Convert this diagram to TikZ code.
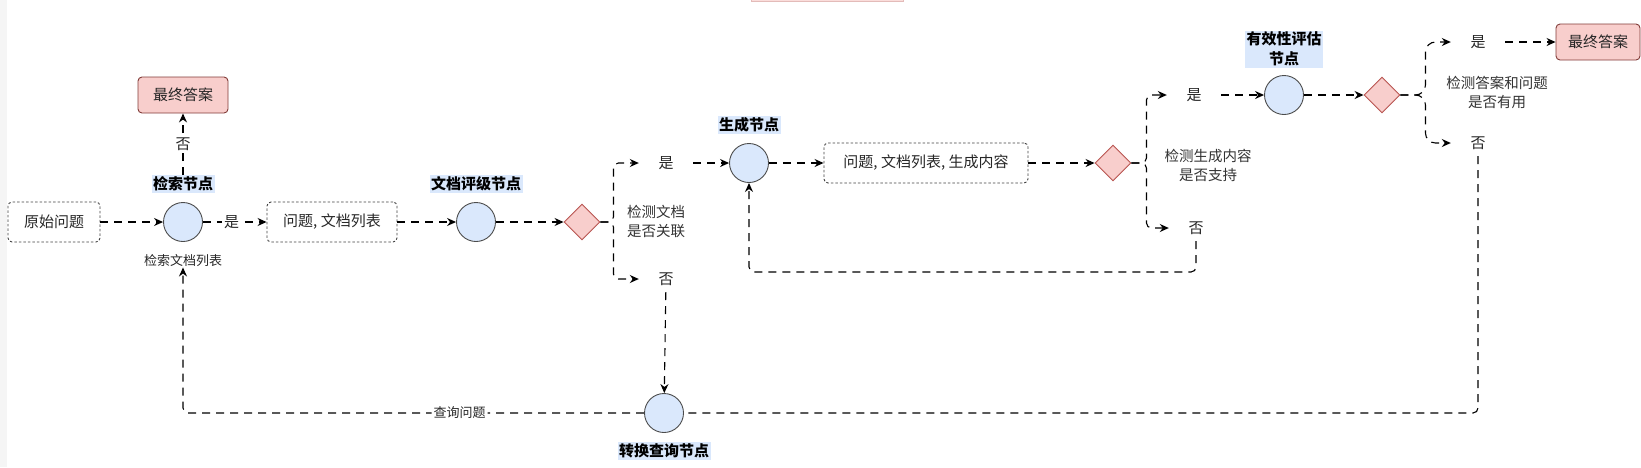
\documentclass[tikz,border=0pt]{standalone}
\usepackage{xcolor}
\usepackage{fontspec}
\usepackage{tikz}
\usetikzlibrary{arrows.meta,positioning,shapes.geometric}
\newfontfamily\cjk{Noto Sans CJK SC}
\definecolor{nodeblue}{HTML}{DAE8FC}
\definecolor{rosefill}{HTML}{F8CECC}
\definecolor{roseline}{HTML}{B85450}
\tikzset{
  flow/proc/.style={draw=black!70, circle, fill=nodeblue, line width=0.9pt, minimum size=39pt, inner sep=0pt},
  flow/judge/.style={draw=roseline, diamond, fill=rosefill, line width=0.9pt, minimum size=36pt, inner sep=0pt},
  flow/final/.style={draw=roseline!70!black, rounded corners=4pt, fill=rosefill, line width=0.9pt, minimum width=90pt, minimum height=36pt},
  flow/data/.style={draw=black!75, dash pattern=on 2.5pt off 2pt, rounded corners=4pt, line width=0.9pt, minimum height=40pt},
  flow/tag/.style={fill=nodeblue, font=\cjk\bfseries\fontsize{15}{20}\selectfont, text=black, inner sep=1.5pt, align=center},
  flow/note/.style={font=\cjk\fontsize{14.5}{19}\selectfont, text=black!80, align=center, inner sep=1pt},
  flow/choice/.style={minimum width=54pt, minimum height=26pt, inner sep=0pt},
  flow/lbl/.style={fill=white, inner sep=2pt},
  flow/edge/.style={line width=1.1pt, dash pattern=on 8pt off 6pt, -{Stealth[length=9pt,width=8pt]}},
  flow/link/.style={line width=1.1pt, dash pattern=on 8pt off 6pt}
}

\begin{document}
\begin{tikzpicture}[x=1pt, y=-1pt, every node/.style={font=\cjk\fontsize{15}{18}\selectfont, text=black!85}]
  \useasboundingbox (0,0) rectangle (1641,467);
  \fill[black!4] (0,0) rectangle (7,467);
  \draw[draw=roseline!40, fill=rosefill!70] (751,-10) rectangle (903,1.5);

  \node[flow/data, minimum width=92pt] (query) at (54,222) {原始问题};
  \node[flow/proc] (retrieve) at (183,222) {};
  \node[flow/tag, above=9pt of retrieve] (retrievetag) {检索节点};
  \node[below=11pt of retrieve, font=\cjk\fontsize{13}{15}\selectfont, inner sep=1pt] (retrievecap) {检索文档列表};
  \node[flow/final] (final1) at (183,95) {最终答案};
  \node[flow/data, minimum width=130pt] (doclist) at (332,222) {问题, 文档列表};
  \node[flow/proc] (grade) at (476,222) {};
  \node[flow/tag, above=9pt of grade] (gradetag) {文档评级节点};
  \node[flow/judge] (relevant) at (582,222) {};
  \node[flow/note, anchor=west] (relevantnote) at (626,221) {检测文档\\是否关联};
  \node[flow/choice] (yes1) at (666,163) {是};
  \node[flow/choice] (no1) at (666,279) {否};
  \node[flow/proc] (generate) at (749,163) {};
  \node[flow/tag, above=9pt of generate] (generatetag) {生成节点};
  \node[flow/data, minimum width=204pt] (genlist) at (926,163) {问题, 文档列表, 生成内容};
  \node[flow/judge] (support) at (1113,163) {};
  \node[flow/note] (supportnote) at (1208,165) {检测生成内容\\是否支持};
  \node[flow/choice] (yes2) at (1194,95) {是};
  \node[flow/choice] (no2) at (1196,228) {否};
  \node[flow/proc] (evaluate) at (1284,95) {};
  \node[flow/tag, above=7pt of evaluate] (evaluatetag) {有效性评估\\节点};
  \node[flow/judge] (useful) at (1382,95) {};
  \node[flow/note] (usefulnote) at (1497,92) {检测答案和问题\\是否有用};
  \node[flow/choice] (yes3) at (1478,42) {是};
  \node[flow/choice] (no3) at (1478,143) {否};
  \node[flow/final, minimum width=84pt] (final2) at (1598,42) {最终答案};
  \node[flow/proc] (transform) at (664,413) {};
  \node[flow/tag, below=9pt of transform] (transformtag) {转换查询节点};
  \coordinate (loopin) at (749,272);

  \draw[flow/edge] (query) -- (retrieve);
  \draw[flow/edge] (retrieve) -- node[flow/lbl, pos=0.45] {是} (doclist);
  \draw[flow/edge] (retrievetag) -- node[flow/lbl, pos=0.5] {否} (final1);
  \draw[flow/edge] (doclist) -- (grade);
  \draw[flow/edge] (grade) -- (relevant);
  \draw[flow/edge, rounded corners=5pt] (relevant.east) -- ++(13,0) |- (yes1);
  \draw[flow/edge, rounded corners=5pt] (relevant.east) -- ++(13,0) |- (no1);
  \draw[flow/edge] (yes1) -- (generate);
  \draw[flow/edge] (no1) -- (transform);
  \draw[flow/edge] (generate) -- (genlist);
  \draw[flow/edge] (genlist) -- (support);
  \draw[flow/edge, rounded corners=5pt] (support.east) -- ++(15,0) |- (yes2);
  \draw[flow/edge, rounded corners=5pt] (support.east) -- ++(15,0) |- (no2);
  \draw[flow/edge, rounded corners=5pt] (no2) |- (loopin) -- (generate);
  \draw[flow/edge] (yes2) -- (evaluate);
  \draw[flow/edge] (evaluate) -- (useful);
  \draw[flow/edge, rounded corners=10pt] (useful.east) -- ++(25,0) |- (yes3);
  \draw[flow/edge, rounded corners=10pt] (useful.east) -- ++(25,0) |- (no3);
  \draw[flow/edge] (yes3) -- (final2);
  \draw[flow/link, rounded corners=5pt] (no3) |- (transform);
  \draw[flow/edge, rounded corners=5pt] (transform) -| node[flow/lbl, pos=0.2, font=\cjk\fontsize{13}{15}\selectfont] {查询问题} (retrievecap);
\end{tikzpicture}
\end{document}
